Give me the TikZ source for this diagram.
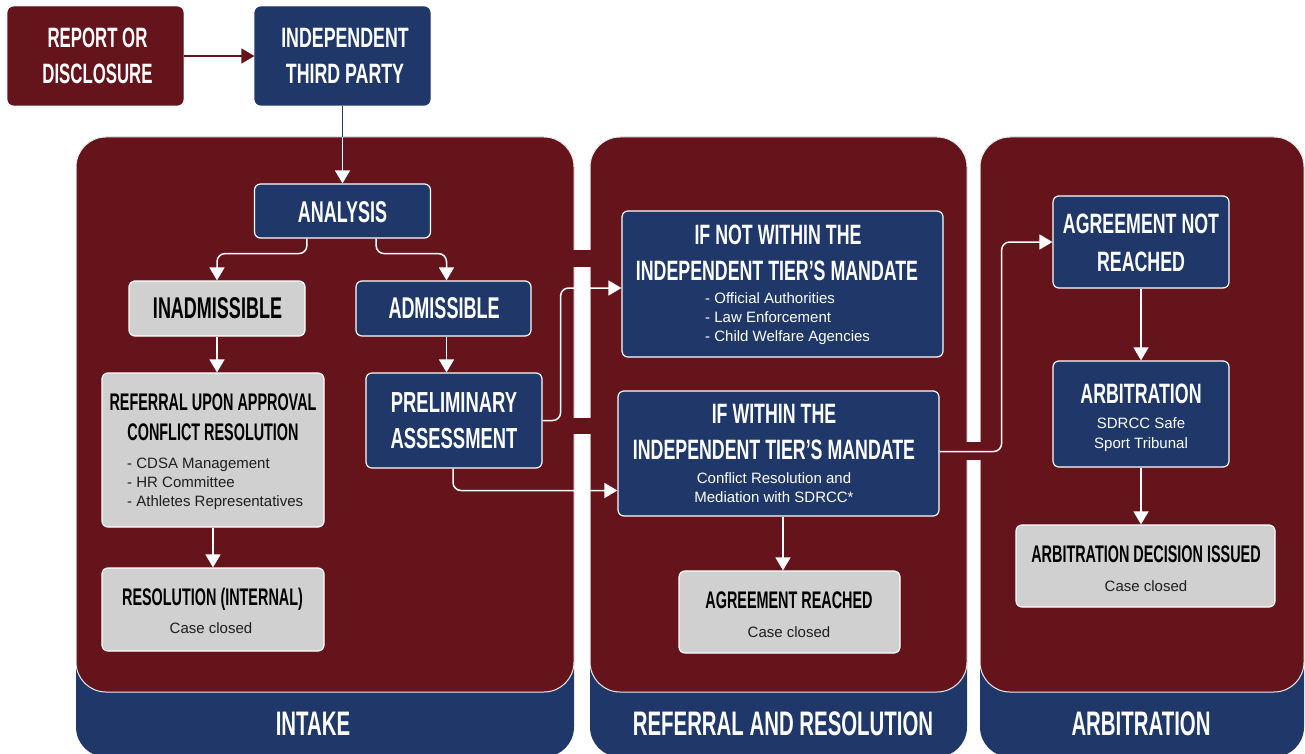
\documentclass[tikz,border=0pt]{standalone}
\usepackage{fontspec}
\setmainfont{Liberation Sans}
\newfontfamily\hdfont[FakeStretch=0.6]{Liberation Sans}
\newfontfamily\hdfontw[FakeStretch=0.635]{Liberation Sans}
\usetikzlibrary{arrows.meta}

\definecolor{panelred}{RGB}{101,20,28}
\definecolor{navy}{RGB}{31,56,105}
\definecolor{boxgray}{RGB}{208,208,208}
\definecolor{inkgray}{RGB}{30,30,30}

\tikzset{
  box/.style={rectangle, rounded corners=6pt, draw=white, line width=1.2pt, inner sep=0pt},
  bluebox/.style={box, fill=navy},
  graybox/.style={box, fill=boxgray},
  redbox/.style={box, fill=panelred, draw=panelred},
  hdbig/.style={inner sep=0pt, anchor=base, text=white, font=\hdfont\bfseries\fontsize{30}{30}\selectfont},
  hdmid/.style={inner sep=0pt, anchor=base, text=white, font=\hdfontw\bfseries\fontsize{28}{28}\selectfont},
  hdsmall/.style={inner sep=0pt, anchor=base, text=black, font=\hdfont\bfseries\fontsize{24}{24}\selectfont},
  hdfoot/.style={inner sep=0pt, anchor=base, text=white, font=\hdfont\bfseries\fontsize{34}{34}\selectfont},
  body/.style={inner sep=0pt, anchor=base, text=white, font=\fontsize{15}{15}\selectfont},
  bodygray/.style={body, text=inkgray},
  conn/.style={draw=white, line width=1.5pt, rounded corners=8pt, -{Triangle[width=15pt,length=13pt]}},
  redconn/.style={draw=panelred, line width=1.5pt, -{Triangle[width=15pt,length=13pt]}},
  panelfoot/.style={fill=navy, rounded corners=30pt},
  panelbody/.style={fill=panelred, draw=white!85!gray, line width=1pt, rounded corners=30pt},
}

\begin{document}
\begin{tikzpicture}[x=1pt, y=-1pt]
\useasboundingbox (0,0) rectangle (1305,754);

% stage panels: blue footer band under a red body
\fill[panelfoot] (76,137) rectangle (574,757);
\fill[panelfoot] (590,137) rectangle (967,757);
\fill[panelfoot] (980,137) rectangle (1304,757);
\filldraw[panelbody] (76,137) rectangle (574,692);
\filldraw[panelbody] (590,137) rectangle (967,692);
\filldraw[panelbody] (980,137) rectangle (1304,692);

% red bridges where connectors cross between panels
\fill[panelred] (573,250) rectangle (591,267);
\fill[panelred] (573,418) rectangle (591,434);
\fill[panelred] (966,442) rectangle (981,460);

% footer labels
\node[hdfoot] (lintake) at (313,735) {INTAKE};
\node[hdfoot] (lrefres) at (783,735) {REFERRAL AND RESOLUTION};
\node[hdfoot] (larb) at (1141,735) {ARBITRATION};

% boxes
\node[redbox, minimum width=175pt, minimum height=98pt] (rep) at (95.5,56) {};
\node[bluebox, draw=navy, minimum width=175pt, minimum height=98pt] (itp) at (342.5,56) {};
\node[bluebox, minimum width=176pt, minimum height=54pt] (ana) at (342.5,211) {};
\node[graybox, minimum width=176pt, minimum height=55pt] (inad) at (217,308.5) {};
\node[bluebox, minimum width=175pt, minimum height=55pt] (adm) at (443.5,308.5) {};
\node[graybox, minimum width=222pt, minimum height=154pt] (ref) at (213,450) {};
\node[graybox, minimum width=222pt, minimum height=83pt] (resi) at (213,609.5) {};
\node[bluebox, minimum width=176pt, minimum height=95pt] (pre) at (454,420.5) {};
\node[bluebox, minimum width=321pt, minimum height=146pt] (ifnot) at (782.5,284) {};
\node[bluebox, minimum width=321pt, minimum height=125pt] (ifin) at (778.5,453.5) {};
\node[graybox, minimum width=221pt, minimum height=82pt] (agr) at (789.5,612) {};
\node[bluebox, minimum width=176pt, minimum height=92pt] (anr) at (1141,242) {};
\node[bluebox, minimum width=176pt, minimum height=106pt] (arb) at (1141,414) {};
\node[graybox, minimum width=259pt, minimum height=82pt] (adi) at (1145.5,566) {};

% box texts
\node[hdbig, font=\hdfont\bfseries\fontsize{28}{28}\selectfont] (rep1) at (97.5,48) {REPORT OR};
\node[hdbig, font=\hdfont\bfseries\fontsize{28}{28}\selectfont] (rep2) at (97.5,84) {DISCLOSURE};
\node[hdmid] (itp1) at (345,48) {INDEPENDENT};
\node[hdmid] (itp2) at (345,84) {THIRD PARTY};
\node[hdbig] (ana1) at (342.5,222) {ANALYSIS};
\node[hdbig, text=black] (inad1) at (217.5,318) {INADMISSIBLE};
\node[hdbig] (adm1) at (444,318) {ADMISSIBLE};
\node[hdbig, font=\hdfontw\bfseries\fontsize{29}{29}\selectfont] (pre1) at (454,412) {PRELIMINARY};
\node[hdbig, font=\hdfontw\bfseries\fontsize{29}{29}\selectfont] (pre2) at (454,448) {ASSESSMENT};

\node[hdsmall] (ref1) at (213,410) {REFERRAL UPON APPROVAL};
\node[hdsmall] (ref2) at (213,440) {CONFLICT RESOLUTION};
\node[bodygray, anchor=base west] (ref3) at (127,468) {- CDSA Management};
\node[bodygray, anchor=base west] (ref4) at (127,487) {- HR Committee};
\node[bodygray, anchor=base west] (ref5) at (127,506) {- Athletes Representatives};

\node[hdsmall] (resi1) at (212.5,605) {RESOLUTION (INTERNAL)};
\node[bodygray] (resi2) at (211,633) {Case closed};

\node[hdmid] (ifnot1) at (778,244) {IF NOT WITHIN THE};
\node[hdmid] (ifnot2) at (777,280) {INDEPENDENT TIER’S MANDATE};
\node[body, anchor=base west] (ifnot3) at (705,303) {- Official Authorities};
\node[body, anchor=base west] (ifnot4) at (705,322) {- Law Enforcement};
\node[body, anchor=base west] (ifnot5) at (705,341) {- Child Welfare Agencies};

\node[hdmid] (ifin1) at (774,423) {IF WITHIN THE};
\node[hdmid] (ifin2) at (774,459) {INDEPENDENT TIER’S MANDATE};
\node[body] (ifin3) at (774,483) {Conflict Resolution and};
\node[body] (ifin4) at (774,502) {Mediation with SDRCC*};

\node[hdsmall] (agr1) at (789,608) {AGREEMENT REACHED};
\node[bodygray] (agr2) at (789,637) {Case closed};

\node[hdmid] (anr1) at (1141,233) {AGREEMENT NOT};
\node[hdmid] (anr2) at (1141,271) {REACHED};

\node[hdmid] (arb1) at (1141,403) {ARBITRATION};
\node[body] (arb2) at (1141,428) {SDRCC Safe};
\node[body] (arb3) at (1141,448) {Sport Tribunal};

\node[hdsmall] (adi1) at (1146,562) {ARBITRATION DECISION ISSUED};
\node[bodygray] (adi2) at (1146,591) {Case closed};

% connectors
\draw[redconn] (rep.east) -- (itp.west);
\coordinate (ptop) at (342.5,137);
\draw[navy, line width=1.5pt] (itp.south) -- (ptop);
\draw[conn] (ptop) -- (ana.north);
\draw[conn] ([xshift=53pt]ana.south west) -- ++(0,15) -| (inad.north);
\draw[conn] ([xshift=-55pt]ana.south east) -- ++(0,15) -| ([xshift=3pt]adm.north);
\draw[conn] (inad.south) -- (inad.south |- ref.north);
\draw[conn] (ref.south) -- (resi.north);
\draw[conn] ([xshift=3pt]adm.south) -- ([xshift=3pt]adm.south |- pre.north);
\draw[conn] (pre.east) -- ++(18,0) |- ([yshift=-4pt]ifnot.west);
\draw[conn] ([xshift=-1pt]pre.south) |- ([yshift=-37pt]ifin.west);
\draw[conn] ([xshift=4.5pt]ifin.south) -- ([xshift=4.5pt]ifin.south |- agr.north);
\draw[conn] ([yshift=2pt]ifin.east) -- ++(62,0) |- (anr.west);
\draw[conn] (anr.south) -- (arb.north);
\draw[conn] (arb.south) -- (arb.south |- adi.north);
\end{tikzpicture}
\end{document}
